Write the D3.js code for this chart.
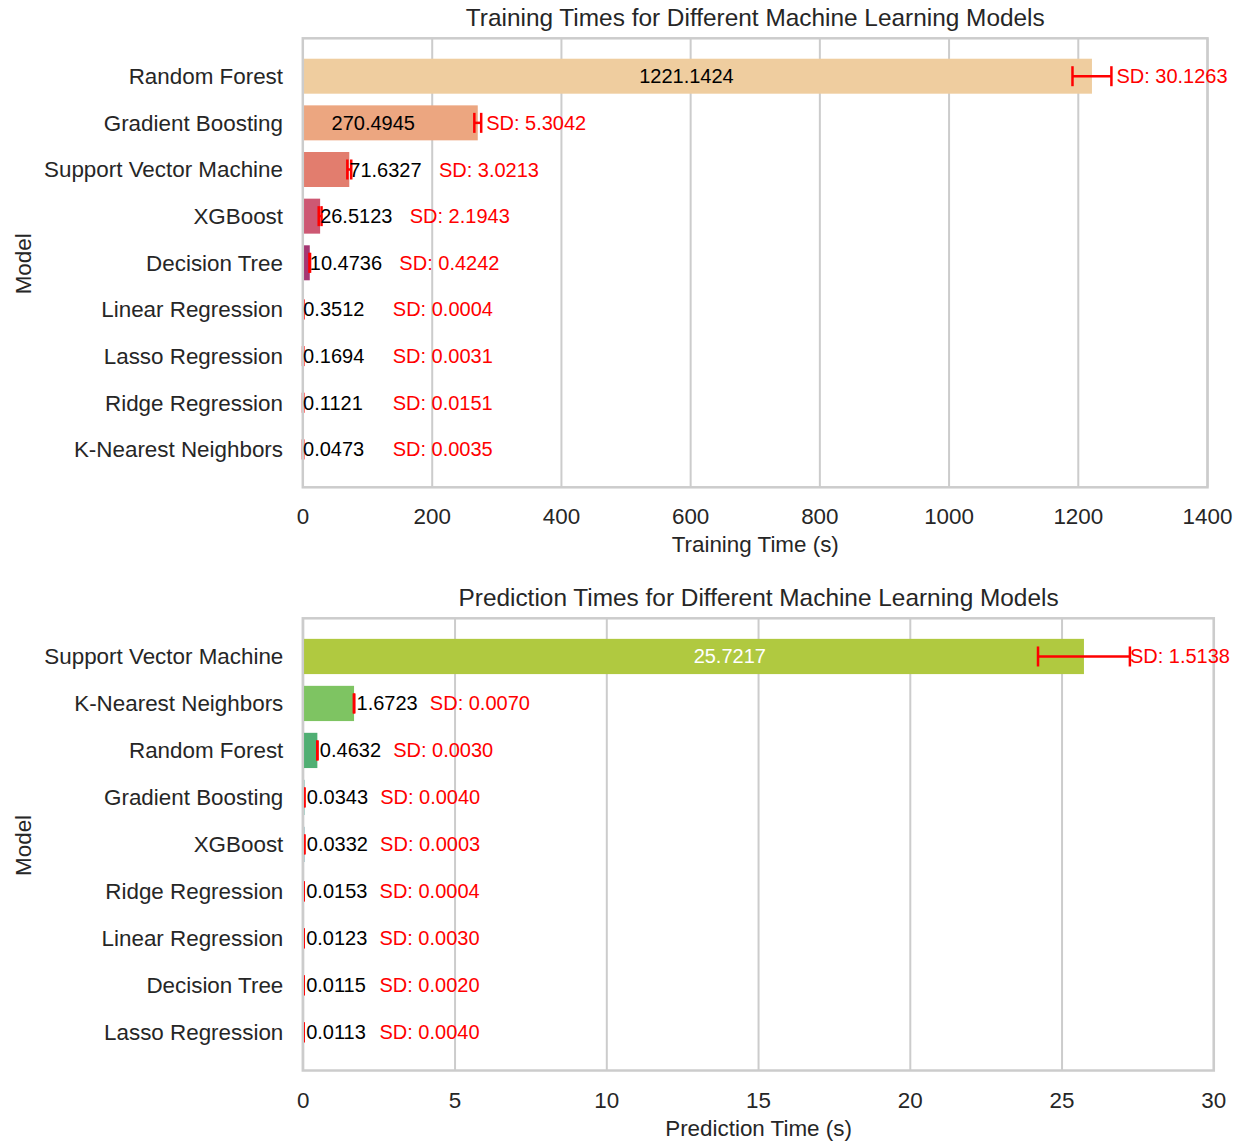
<!DOCTYPE html>
<html>
<head>
<meta charset="utf-8">
<script src="https://cdn.jsdelivr.net/npm/d3@7"></script>
<style>
  html, body { margin: 0; padding: 0; background: #ffffff; }
  svg { display: block; font-family: "Liberation Sans", Arial, sans-serif; }
</style>
</head>
<body>
<svg id="chart" width="1244" height="1141"></svg>
<script>
// Training times (seconds), mean and standard deviation per model
const trainModels = ["Random Forest", "Gradient Boosting", "Support Vector Machine", "XGBoost",
  "Decision Tree", "Linear Regression", "Lasso Regression", "Ridge Regression", "K-Nearest Neighbors"];
const trainMean = [1221.1424, 270.4945, 71.6327, 26.5123, 10.4736, 0.3512, 0.1694, 0.1121, 0.0473];
const trainSD = [30.1263, 5.3042, 3.0213, 2.1943, 0.4242, 0.0004, 0.0031, 0.0151, 0.0035];
const trainTicks = [0, 200, 400, 600, 800, 1000, 1200, 1400];

// Prediction times (seconds), mean and standard deviation per model
const predModels = ["Support Vector Machine", "K-Nearest Neighbors", "Random Forest", "Gradient Boosting",
  "XGBoost", "Ridge Regression", "Linear Regression", "Decision Tree", "Lasso Regression"];
const predMean = [25.7217, 1.6723, 0.4632, 0.0343, 0.0332, 0.0153, 0.0123, 0.0115, 0.0113];
const predSD = [1.5138, 0.0070, 0.0030, 0.0040, 0.0003, 0.0004, 0.0030, 0.0020, 0.0040];
const predTicks = [0, 5, 10, 15, 20, 25, 30];

const trainColors = ["#EFCD9F", "#ECA680", "#E27D6E", "#CD5873", "#A53773", "#7A2A6C", "#532361", "#351C4A", "#1F1431"];
const predColors = ["#B0C940", "#7EC462", "#50AF73", "#3A9C88", "#3D808B", "#456889", "#4A4E85", "#4B3374", "#461A5E"];

const svg = d3.select("#chart");
const GRID = "#cccccc";
const INK = "#262626";
const TICK_SIZE = 22.4;
const TITLE_SIZE = 24.4;

function drawPanel(cfg) {
  const { left, right, top, bottom, models, mean, sd, ticks, colors, title, xLabel } = cfg;
  const n = models.length;
  const barH = 0.75;
  const pad = 0.05 * (n - 1 + barH);

  const x = d3.scaleLinear().domain([ticks[0], ticks[ticks.length - 1]]).range([left, right]);
  const y = d3.scaleLinear().domain([-barH / 2 - pad, n - 1 + barH / 2 + pad]).range([top, bottom]);
  const unit = y(1) - y(0);

  const g = svg.append("g");

  // vertical grid behind bars
  g.append("g").selectAll("line").data(ticks).join("line")
    .attr("x1", d => x(d)).attr("x2", d => x(d))
    .attr("y1", top).attr("y2", bottom)
    .attr("stroke", GRID).attr("stroke-width", 2);

  // bars
  g.append("g").selectAll("rect").data(mean).join("rect")
    .attr("x", x(0))
    .attr("y", (d, i) => y(i) - barH * unit / 2)
    .attr("width", d => x(d) - x(0))
    .attr("height", barH * unit)
    .attr("fill", (d, i) => colors[i]);

  // error bars
  const capH = 10;
  const eb = g.append("g").attr("stroke", "#ff0000").attr("stroke-width", 2.5).attr("fill", "none");
  mean.forEach((m, i) => {
    const cy = y(i);
    const x0 = x(m - sd[i]), x1 = x(m + sd[i]);
    eb.append("line").attr("x1", x0).attr("x2", x1).attr("y1", cy).attr("y2", cy);
    eb.append("line").attr("x1", x0).attr("x2", x0).attr("y1", cy - capH).attr("y2", cy + capH);
    eb.append("line").attr("x1", x1).attr("x2", x1).attr("y1", cy - capH).attr("y2", cy + capH);
  });

  // frame
  g.append("rect")
    .attr("x", cfg.frameLeft).attr("y", top)
    .attr("width", right - cfg.frameLeft).attr("height", bottom - top)
    .attr("fill", "none").attr("stroke", GRID).attr("stroke-width", 2.5);

  // value and SD labels
  const lab = g.append("g").attr("font-size", 20);
  const fmt = d3.format(".4f");
  mean.forEach((m, i) => {
    const cy = y(i);
    const inside = cfg.inside[i];
    if (inside) {
      lab.append("text")
        .attr("x", x(m * inside.at))
        .attr("y", cy).attr("dy", "0.35em")
        .attr("text-anchor", inside.anchor)
        .attr("fill", inside.color)
        .text(fmt(m));
      lab.append("text")
        .attr("x", x(m + sd[i]) + cfg.sdGap)
        .attr("y", cy).attr("dy", "0.35em")
        .attr("fill", "#ff0000")
        .text("SD: " + fmt(sd[i]));
    } else {
      lab.append("text")
        .attr("x", x(m) + cfg.valGap)
        .attr("y", cy).attr("dy", "0.35em")
        .attr("fill", "#000000")
        .text(fmt(m));
      lab.append("text")
        .attr("x", x(m) + cfg.sdOffset)
        .attr("y", cy).attr("dy", "0.35em")
        .attr("fill", "#ff0000")
        .text("SD: " + fmt(sd[i]));
    }
  });

  // y tick labels
  g.append("g").attr("font-size", TICK_SIZE).attr("fill", INK).attr("text-anchor", "end")
    .selectAll("text").data(models).join("text")
    .attr("x", left - 20)
    .attr("y", (d, i) => y(i)).attr("dy", "0.35em")
    .text(d => d);

  // x tick labels
  g.append("g").attr("font-size", TICK_SIZE).attr("fill", INK).attr("text-anchor", "middle")
    .selectAll("text").data(ticks).join("text")
    .attr("x", d => x(d))
    .attr("y", bottom + 37)
    .text(d => d);

  // axis titles
  g.append("text")
    .attr("x", (left + right) / 2).attr("y", bottom + 65)
    .attr("text-anchor", "middle").attr("font-size", TICK_SIZE).attr("fill", INK)
    .text(xLabel);
  g.append("text")
    .attr("transform", `translate(31,${(top + bottom) / 2 + 1}) rotate(-90)`)
    .attr("text-anchor", "middle").attr("font-size", TICK_SIZE).attr("fill", INK)
    .text("Model");

  // panel title
  g.append("text")
    .attr("x", (left + right) / 2).attr("y", top - 12)
    .attr("text-anchor", "middle").attr("font-size", TITLE_SIZE).attr("fill", INK)
    .text(title);
}

drawPanel({
  left: 303, frameLeft: 302.8, right: 1207.5, top: 38.3, bottom: 487.3,
  models: trainModels, mean: trainMean, sd: trainSD, ticks: trainTicks, colors: trainColors,
  title: "Training Times for Different Machine Learning Models",
  xLabel: "Training Time (s)",
  inside: [
    { at: 0.486, anchor: "middle", color: "#000000" },
    { at: 0.402, anchor: "middle", color: "#000000" }
  ],
  sdGap: 5, valGap: 0, sdOffset: 89.6
});

drawPanel({
  left: 303.3, frameLeft: 302.8, right: 1213.8, top: 618.3, bottom: 1070.5,
  models: predModels, mean: predMean, sd: predSD, ticks: predTicks, colors: predColors,
  title: "Prediction Times for Different Machine Learning Models",
  xLabel: "Prediction Time (s)",
  inside: [
    { at: 0.5, anchor: "start", color: "#ffffff" }
  ],
  sdGap: 0, valGap: 2.5, sdOffset: 75.8
});
</script>
</body>
</html>
